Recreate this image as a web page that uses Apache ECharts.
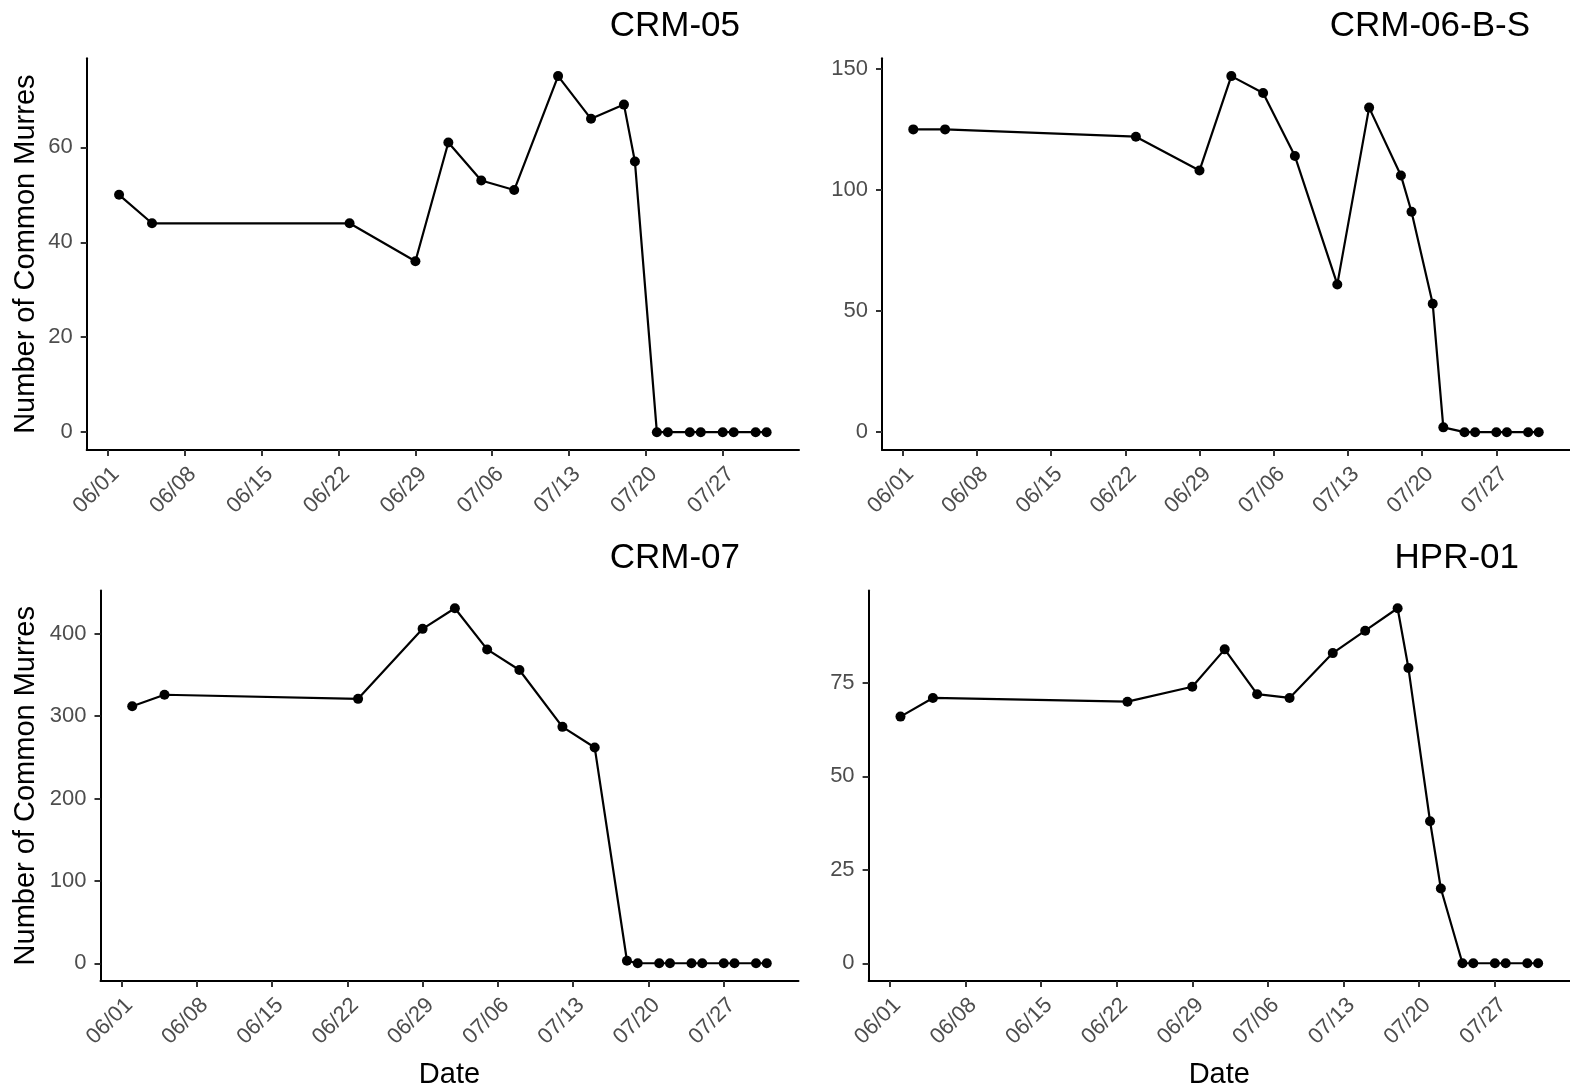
<!DOCTYPE html>
<html>
<head>
<meta charset="utf-8">
<title>Common Murre counts by site</title>
<script src="https://cdn.jsdelivr.net/npm/echarts@6/dist/echarts.min.js"></script>
<style>
  html, body { margin: 0; padding: 0; background: #ffffff; }
  #chart { width: 1570px; height: 1090px; }
</style>
</head>
<body>
<div id="chart"></div>
<script>
// Survey dates (month/day) shared by every site
const SURVEY_DATES = ['06/02', '06/05', '06/23', '06/29', '07/02', '07/05', '07/08', '07/12', '07/15', '07/18',
                      '07/19', '07/21', '07/22', '07/24', '07/25', '07/27', '07/28', '07/30', '07/31'];

// Number of Common Murres counted on each survey date
const CRM_05     = [50, 44, 44, 36, 61, 53, 51, 75, 66, 69, 57, 0, 0, 0, 0, 0, 0, 0, 0];
const CRM_06_B_S = [125, 125, 122, 108, 147, 140, 114, 61, 134, 106, 91, 53, 2, 0, 0, 0, 0, 0, 0];
const CRM_07     = [312, 326, 321, 406, 431, 381, 356, 287, 262, 3, 0, 0, 0, 0, 0, 0, 0, 0, 0];
const HPR_01     = [66, 71, 70, 74, 84, 72, 71, 83, 89, 95, 79, 38, 20, 0, 0, 0, 0, 0, 0];

const SITE_NAMES = ['CRM-05', 'CRM-06-B-S', 'CRM-07', 'HPR-01'];

// Axis tick labels
const DATE_TICKS = ['06/01', '06/08', '06/15', '06/22', '06/29', '07/06', '07/13', '07/20', '07/27'];
const Y_TICKS_CRM_05     = [0, 20, 40, 60];
const Y_TICKS_CRM_06_B_S = [0, 50, 100, 150];
const Y_TICKS_CRM_07     = [0, 100, 200, 300, 400];
const Y_TICKS_HPR_01     = [0, 25, 50, 75];

const Y_TITLE = 'Number of Common Murres';
const X_TITLE = 'Date';
const YEAR = 2019;

const FONT = '"Liberation Sans", Arial, Helvetica, sans-serif';

// Dates are placed on a numeric axis as timestamps
function toTime(md) {
  const parts = md.split('/').map(Number);
  return new Date(YEAR, parts[0] - 1, parts[1]).getTime();
}
function pad2(n) { return (n < 10 ? '0' : '') + n; }
function fmtDate(v) {
  const d = new Date(v);
  return pad2(d.getMonth() + 1) + '/' + pad2(d.getDate());
}
// 5% padding on each side of the data range
function padded(lo, hi) {
  const r = hi - lo;
  return [lo - 0.05 * r, hi + 0.05 * r];
}

// Panel frames: plot-area boxes in pixels
const panels = [
  { values: CRM_05,     yTicks: Y_TICKS_CRM_05,     left: 86.7,  top: 58.3,  width: 712.3, height: 391.7, titleRight: 740,  titleTop: 9,   yTitle: true,  xTitle: false },
  { values: CRM_06_B_S, yTicks: Y_TICKS_CRM_06_B_S, left: 882,   top: 58.3,  width: 700,   height: 391.7, titleRight: 1530, titleTop: 9,   yTitle: false, xTitle: false },
  { values: CRM_07,     yTicks: Y_TICKS_CRM_07,     left: 100.5, top: 590.5, width: 698,   height: 391.5, titleRight: 740,  titleTop: 541, yTitle: true,  xTitle: true },
  { values: HPR_01,     yTicks: Y_TICKS_HPR_01,     left: 868.6, top: 590.5, width: 712.9, height: 391.5, titleRight: 1519, titleTop: 541, yTitle: false, xTitle: true }
];

const dateTimes = SURVEY_DATES.map(toTime);
const xRange = padded(Math.min.apply(null, dateTimes), Math.max.apply(null, dateTimes));
const xTickTimes = DATE_TICKS.map(toTime);

const option = {
  animation: false,
  backgroundColor: '#ffffff',
  title: [],
  grid: [],
  xAxis: [],
  yAxis: [],
  series: []
};

panels.forEach(function (p, i) {
  const yRange = padded(Math.min(0, Math.min.apply(null, p.values)), Math.max.apply(null, p.values));

  option.title.push({
    text: SITE_NAMES[i],
    left: p.titleRight,
    top: p.titleTop,
    textAlign: 'right',
    padding: 0,
    textStyle: { fontFamily: FONT, fontSize: 35, fontWeight: 'normal', color: '#000000' }
  });

  option.grid.push({ left: p.left, top: p.top, width: p.width, height: p.height, containLabel: false });

  option.xAxis.push({
    type: 'value',
    gridIndex: i,
    min: xRange[0],
    max: xRange[1],
    name: p.xTitle ? X_TITLE : '',
    nameLocation: 'middle',
    nameGap: 79,
    nameTextStyle: { fontFamily: FONT, fontSize: 29, color: '#000000' },
    axisLine: { show: true, onZero: false, lineStyle: { color: '#000000', width: 2 } },
    axisTick: { show: true, length: 6, customValues: xTickTimes, lineStyle: { color: '#333333', width: 2 } },
    axisLabel: {
      customValues: xTickTimes,
      rotate: 45,
      align: 'right',
      verticalAlign: 'top',
      margin: 13,
      fontFamily: FONT,
      fontSize: 22,
      color: '#4d4d4d',
      formatter: function (v) { return fmtDate(v); }
    },
    splitLine: { show: false }
  });

  option.yAxis.push({
    type: 'value',
    gridIndex: i,
    min: yRange[0],
    max: yRange[1],
    name: p.yTitle ? Y_TITLE : '',
    nameLocation: 'middle',
    nameGap: p.left - 40,
    nameTextStyle: { fontFamily: FONT, fontSize: 29, color: '#000000' },
    axisLine: { show: true, onZero: false, lineStyle: { color: '#000000', width: 2 } },
    axisTick: { show: true, length: 6, customValues: p.yTicks, lineStyle: { color: '#333333', width: 2 } },
    axisLabel: {
      customValues: p.yTicks,
      margin: 14,
      fontFamily: FONT,
      fontSize: 22,
      color: '#4d4d4d'
    },
    splitLine: { show: false }
  });

  option.series.push({
    type: 'line',
    xAxisIndex: i,
    yAxisIndex: i,
    data: SURVEY_DATES.map(function (d, k) { return [toTime(d), p.values[k]]; }),
    symbol: 'circle',
    symbolSize: 10,
    showSymbol: true,
    showAllSymbol: true,
    clip: false,
    itemStyle: { color: '#000000' },
    lineStyle: { color: '#000000', width: 2.2 },
    emphasis: { disabled: true }
  });
});

const chart = echarts.init(document.getElementById('chart'), null, { renderer: 'canvas' });
chart.setOption(option);
</script>
</body>
</html>
